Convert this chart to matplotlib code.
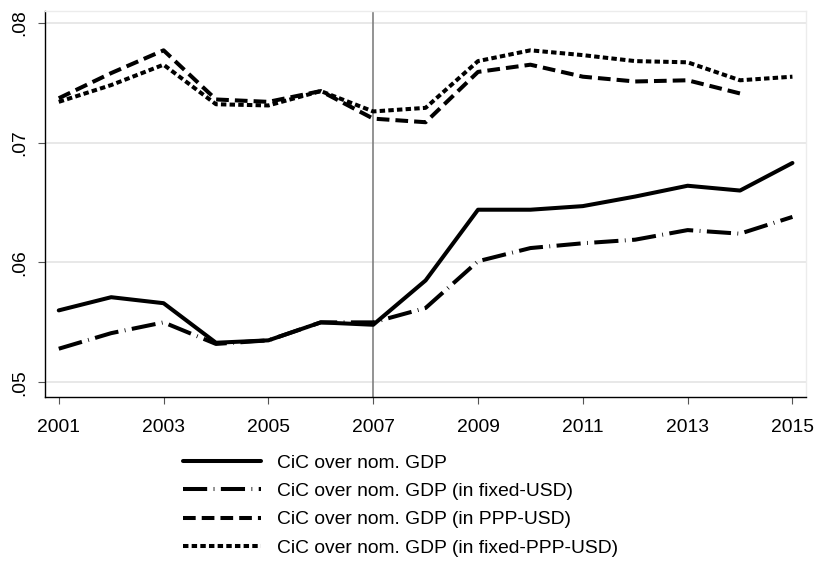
import matplotlib

matplotlib.use("Agg")

import matplotlib.pyplot as plt
from matplotlib.ticker import FuncFormatter

plt.rcParams["font.family"] = ["Liberation Sans", "DejaVu Sans"]

YEARS = list(range(2001, 2016))
YEARS_PPP = list(range(2001, 2015))

# currency in circulation relative to nominal GDP
CIC_NOM = [0.0560, 0.0571, 0.0566, 0.0533, 0.0535, 0.0550, 0.0548, 0.0585,
           0.0644, 0.0644, 0.0647, 0.0655, 0.0664, 0.0660, 0.0683]
CIC_FIXED_USD = [0.0528, 0.0541, 0.0550, 0.0532, 0.0535, 0.0550, 0.0550, 0.0562,
                 0.0601, 0.0612, 0.0616, 0.0619, 0.0627, 0.0624, 0.0638]
CIC_PPP_USD = [0.0737, 0.0758, 0.0777, 0.0736, 0.0734, 0.0743, 0.0720, 0.0717,
               0.0759, 0.0765, 0.0755, 0.0751, 0.0752, 0.0741]
CIC_FIXED_PPP_USD = [0.0734, 0.0748, 0.0765, 0.0732, 0.0731, 0.0743, 0.0726, 0.0729,
                     0.0768, 0.0777, 0.0773, 0.0768, 0.0767, 0.0752, 0.0755]

LABELS = [
    "CiC over nom. GDP",
    "CiC over nom. GDP (in fixed-USD)",
    "CiC over nom. GDP (in PPP-USD)",
    "CiC over nom. GDP (in fixed-PPP-USD)",
]
BREAK_YEAR = 2007

LW = 2.9
FS = 13.9

fig = plt.figure(figsize=(8.2, 5.67), dpi=100)
fig.patch.set_facecolor("white")
ax = fig.add_axes([0.0553, 0.3004, 0.9277, 0.6806])

ax.axvline(BREAK_YEAR, color="#808080", linewidth=1.2, zorder=2)

h1, = ax.plot(YEARS, CIC_NOM, color="black", linewidth=LW, solid_capstyle="round",
              solid_joinstyle="round", label=LABELS[0], zorder=3)
h2, = ax.plot(YEARS, CIC_FIXED_USD, color="black", linewidth=LW,
              linestyle=(0, (6.0, 1.6, 0.2, 1.6)), label=LABELS[1], zorder=3)
h3, = ax.plot(YEARS_PPP, CIC_PPP_USD, color="black", linewidth=LW,
              linestyle=(0, (3.15, 1.5)), label=LABELS[2], zorder=3)
h4, = ax.plot(YEARS, CIC_FIXED_PPP_USD, color="black", linewidth=LW,
              linestyle=(0, (1.35, 0.8)), label=LABELS[3], zorder=3)

ax.set_xlim(2000.744, 2015.26)
ax.set_ylim(0.0488, 0.0810)
ax.set_xticks(range(2001, 2016, 2))
ax.set_yticks([0.05, 0.06, 0.07, 0.08])
ax.yaxis.set_major_formatter(FuncFormatter(lambda v, _: f"{v:.2f}".lstrip("0")))
ax.grid(axis="y", color="#e6e6e6", linewidth=1.3, zorder=0)
ax.set_axisbelow(True)

for side in ("top", "right"):
    ax.spines[side].set_color("#ececec")
    ax.spines[side].set_linewidth(1.0)
for side in ("left", "bottom"):
    ax.spines[side].set_color("black")
    ax.spines[side].set_linewidth(1.0)

ax.tick_params(axis="x", length=5, width=0.8, color="#555555", pad=11, labelsize=FS)
ax.tick_params(axis="y", length=5, width=0.8, color="#555555", pad=7, labelsize=FS)
for lab in ax.get_yticklabels():
    lab.set_rotation(90)
    lab.set_va("center")

fig.legend(handles=[h1, h2, h3, h4], loc="center left", bbox_to_anchor=(0.2228, 0.1085),
           frameon=False, fontsize=FS, handlelength=4.05, handletextpad=0.83,
           labelspacing=0.56, borderpad=0, borderaxespad=0)

fig.savefig("out.png", dpi=100, facecolor="white")
